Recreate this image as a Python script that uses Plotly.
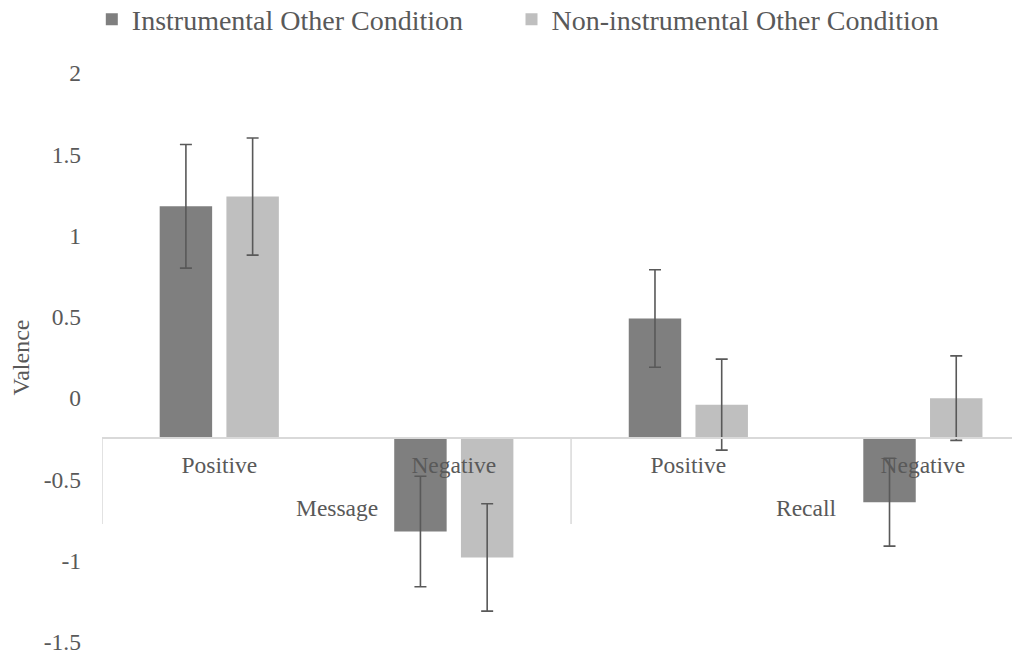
import plotly.graph_objects as go

# ---- data ----
groups = ["Message", "Message", "Recall", "Recall"]
valences = ["Positive", "Negative", "Positive", "Negative"]
series_names = ["Instrumental Other Condition", "Non-instrumental Other Condition"]
instrumental = [1.18, -0.82, 0.49, -0.64]
instrumental_err = [0.38, 0.34, 0.30, 0.27]
non_instrumental = [1.24, -0.98, -0.04, 0.00]
non_instrumental_err = [0.36, 0.33, 0.28, 0.26]
ytick_vals = [2, 1.5, 1, 0.5, 0, -0.5, -1, -1.5]
ytick_text = ["2", "1.5", "1", "0.5", "0", "-0.5", "-1", "-1.5"]
y_title = "Valence"

# ---- style ----
colors = ["#7f7f7f", "#bfbfbf"]
text_color = "#595959"
line_color = "#d9d9d9"
font_family = "Liberation Serif, Times New Roman, serif"
tick_font = dict(size=23.5, color=text_color, family=font_family)
legend_font = dict(size=28, color=text_color, family=font_family)
axis_cross = -0.245          # where the horizontal axis crosses the value axis
y_min, y_max = -1.5, 2.0

# category slots (index positions) and group structure derived from the lists
positions = list(range(len(valences)))
group_names = list(dict.fromkeys(groups))
group_pos = {g: [p for p, gg in zip(positions, groups) if gg == g] for g in group_names}
group_centers = [sum(group_pos[g]) / len(group_pos[g]) for g in group_names]
boundaries = [min(group_pos[g]) - 0.5 for g in group_names] + [max(positions) + 0.5]

fig = go.Figure()
for name, vals, errs, col, leg in [
    (series_names[0], instrumental, instrumental_err, colors[0], "legend"),
    (series_names[1], non_instrumental, non_instrumental_err, colors[1], "legend2"),
]:
    fig.add_trace(go.Bar(
        name=name,
        legend=leg,
        x=positions,
        y=[v - axis_cross for v in vals],
        base=axis_cross,
        customdata=[[g, v] for g, v in zip(groups, valences)],
        marker=dict(color=col, line=dict(width=0)),
        error_y=dict(type="data", array=errs, visible=True,
                     color="#595959", thickness=1.6, width=6),
    ))

# group (outer level) labels
annotations = [
    dict(text=g, x=c, xref="x", y=axis_cross, yref="y", yshift=-70.5,
         showarrow=False, font=tick_font, xanchor="center", yanchor="middle")
    for g, c in zip(group_names, group_centers)
]
# group dividers below the horizontal axis
shapes = [
    dict(type="line", xref="x", yref="y", ysizemode="pixel", yanchor=axis_cross,
         x0=b, x1=b, y0=0, y1=-86, line=dict(color=line_color, width=1.5), layer="below")
    for b in boundaries
]

legend_common = dict(orientation="h", xanchor="left", yanchor="middle", y=1.094,
                     font=legend_font, bgcolor="rgba(0,0,0,0)")

fig.update_layout(
    width=1029, height=656,
    margin=dict(l=102, r=17, t=73, b=14, autoexpand=False),
    paper_bgcolor="white", plot_bgcolor="white",
    font=dict(family=font_family, color=text_color),
    barmode="group", bargap=0.431, bargroupgap=0.214,
    showlegend=True,
    legend=dict(x=-0.0112, **legend_common),
    legend2=dict(x=0.45, **legend_common),
    annotations=annotations,
    shapes=shapes,
    xaxis=dict(
        range=[-0.5, 3.38],
        tickvals=positions, ticktext=valences,
        anchor="free",
        position=(axis_cross - y_min) / (y_max - y_min),
        showline=True, linecolor=line_color, linewidth=1.5,
        ticks="", showgrid=False, zeroline=False, automargin=False,
        ticklabelstandoff=6,
        tickfont=tick_font,
    ),
    yaxis=dict(
        range=[y_min, y_max],
        tickvals=ytick_vals, ticktext=ytick_text,
        showgrid=False, zeroline=False, showline=False, ticks="",
        ticklabelstandoff=20, automargin=False, ticklabeloverflow="allow",
        tickfont=tick_font,
        title=dict(text=y_title, standoff=7,
                   font=dict(size=24, color=text_color, family=font_family)),
    ),
)

fig.write_html("out.html", config={"displayModeBar": False},
               post_script="document.body.style.margin='0';")
